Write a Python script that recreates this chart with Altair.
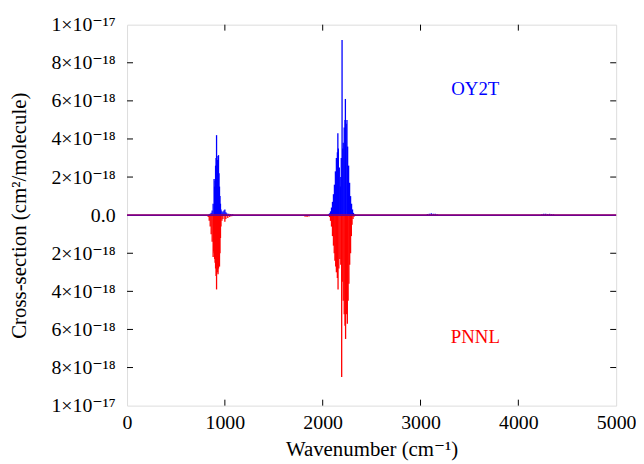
import altair as alt
import pandas as pd

# Cross-sections in units of 1e-18 cm^2/molecule
# OY2T (blue, plotted upward)
oy2t_wn = [840, 850, 860, 870, 880, 890, 895, 900, 905, 910, 915, 920, 925, 930,
           935, 940, 945, 950, 955, 960, 970, 980, 990, 1000, 1010, 1020, 1040,
           1060, 1080,
           2060, 2070, 2080, 2090, 2100, 2110, 2120, 2130, 2140, 2150, 2155, 2160,
           2170, 2180, 2185, 2190, 2198, 2205, 2210, 2220, 2228, 2232, 2240, 2248,
           2255, 2265, 2275, 2285, 2295, 2305, 2315, 2330,
           3070, 3090, 3110, 3130, 3150, 3170,
           4240, 4260, 4280, 4300, 4320, 4340, 4360]
oy2t_val = [0.05, 0.08, 0.12, 0.25, 0.6, 1.9, 1.5, 1.8, 2.6, 3.0, 4.2, 2.5, 2.9, 3.1,
            3.15, 2.2, 1.5, 1.0, 0.6, 0.3, 0.2, 0.15, 0.25, 0.3, 0.15, 0.1, 0.08,
            0.06, 0.05,
            0.05, 0.1, 0.2, 0.4, 0.7, 1.1, 1.6, 2.3, 3.0, 3.3, 4.3, 3.5,
            2.5, 1.5, 2.0, 3.0, 9.2, 3.5, 3.8, 4.6, 5.0, 6.1, 4.8, 5.0,
            3.6, 2.6, 1.7, 1.0, 0.6, 0.3, 0.12, 0.05,
            0.06, 0.08, 0.1, 0.08, 0.07, 0.05,
            0.05, 0.07, 0.08, 0.06, 0.07, 0.05, 0.04]

# PNNL (red, plotted downward)
pnnl_wn = [830, 840, 850, 860, 870, 880, 885, 890, 895, 900, 905, 910, 915, 920,
           925, 930, 935, 940, 945, 950, 955, 960, 970, 980, 1000, 1010, 1030,
           1050, 1070,
           1800, 1820, 1840, 1860, 1880,
           2070, 2080, 2090, 2100, 2110, 2118, 2125, 2133, 2140, 2150, 2157, 2165,
           2175, 2185, 2194, 2200, 2210, 2220, 2228, 2234, 2242, 2252, 2260, 2268,
           2276, 2285, 2293, 2300, 2310, 2320,
           3080, 3110, 3140,
           4260, 4300, 4340]
pnnl_val = [0.1, 0.3, 0.6, 1.0, 1.4, 2.2, 1.9, 2.0, 2.3, 2.5, 2.8, 3.2, 3.9, 2.9,
            3.0, 3.1, 2.8, 2.6, 2.7, 2.0, 1.2, 0.6, 0.3, 0.2, 0.35, 0.2, 0.15,
            0.1, 0.06,
            0.05, 0.08, 0.1, 0.07, 0.05,
            0.1, 0.3, 0.6, 1.1, 1.6, 2.0, 2.4, 2.7, 3.0, 3.3, 3.9, 2.8,
            2.3, 2.6, 8.5, 3.5, 4.5, 5.2, 5.8, 6.5, 5.2, 5.7, 4.5, 3.6,
            2.6, 2.0, 1.1, 0.5, 0.2, 0.08,
            0.04, 0.05, 0.04,
            0.03, 0.04, 0.03]

x_label_values = [0, 1000, 2000, 3000, 4000, 5000]
y_label_values = [-10, -8, -6, -4, -2, 0, 2, 4, 6, 8, 10]
x_inner_ticks = [1000, 2000, 3000, 4000]
y_inner_ticks = [-8, -6, -4, -2, 2, 4, 6, 8]

W, H = 493, 384
TICK = 6
FONT = "'Liberation Serif', 'DejaVu Serif', serif"

oy2t = pd.DataFrame({"wn": oy2t_wn, "v": oy2t_val})
pnnl = pd.DataFrame({"wn": pnnl_wn, "v": [-v for v in pnnl_val]})
xt = pd.DataFrame({"wn": x_inner_ticks})
yt = pd.DataFrame({"v": y_inner_ticks})
ends = pd.DataFrame({"wn": [0, 5000], "v": [0, 0]})

xscale = alt.Scale(domain=[0, 5000], nice=False)
yscale = alt.Scale(domain=[-10, 10], nice=False)

y_label_expr = ("datum.value == 0 ? '0.0' : (abs(datum.value) == 10 ? "
                "'1\u00d710\u207b\u00b9\u2077' : abs(datum.value) + "
                "'\u00d710\u207b\u00b9\u2078')")

xaxis = alt.Axis(values=x_label_values, ticks=False, domain=False, grid=False,
                 labelFlush=False, labelOverlap=False, labelPadding=7,
                 labelFontSize=20, labelFont=FONT, labelColor="black",
                 title="Wavenumber (cm\u207b\u00b9)", titleFontSize=21,
                 titleFont=FONT, titleFontWeight="normal", titlePadding=6,
                 titleColor="black", format="d")
yaxis = alt.Axis(values=y_label_values, ticks=False, domain=False, grid=False,
                 labelFlush=False, labelOverlap=False, labelPadding=12,
                 labelFontSize=20, labelFont=FONT, labelColor="black",
                 labelExpr=y_label_expr,
                 title="Cross-section (cm\u00b2/molecule)", titleFontSize=21,
                 titleFont=FONT, titleFontWeight="normal", titlePadding=22,
                 titleColor="black")

X = alt.X("wn:Q", scale=xscale, axis=xaxis)
Y = alt.Y("v:Q", scale=yscale, axis=yaxis)

base_red = alt.Chart(pnnl).mark_rule(color="#ff0000", strokeWidth=1.3).encode(
    x=X, y=Y, y2=alt.datum(0))
base_blue = alt.Chart(oy2t).mark_rule(color="#0000ff", strokeWidth=1.3).encode(
    x=X, y=Y, y2=alt.datum(0))
zero_red = alt.Chart(ends).mark_line(color="#ff0000", strokeWidth=1.6).encode(
    x=X, y=Y)
zero_blue = alt.Chart(ends).mark_line(color="#0000ff", strokeWidth=1.2,
                                      opacity=0.75).encode(x=X, y=Y)

left_ticks = alt.Chart(yt).mark_rule(color="black", strokeWidth=1).encode(
    y=Y, x=alt.value(0), x2=alt.value(TICK))
right_ticks = alt.Chart(yt).mark_rule(color="black", strokeWidth=1).encode(
    y=Y, x=alt.value(W - TICK), x2=alt.value(W))
bottom_ticks = alt.Chart(xt).mark_rule(color="black", strokeWidth=1).encode(
    x=X, y=alt.value(H), y2=alt.value(H - TICK))
top_ticks = alt.Chart(xt).mark_rule(color="black", strokeWidth=1).encode(
    x=X, y=alt.value(0), y2=alt.value(TICK))

label_oy2t = alt.Chart().mark_text(color="#0000ff", fontSize=19, font=FONT).encode(
    x=alt.datum(3560, scale=xscale, axis=xaxis),
    y=alt.datum(6.6, scale=yscale, axis=yaxis),
    text=alt.value("OY2T"))
label_pnnl = alt.Chart().mark_text(color="#ff0000", fontSize=19, font=FONT).encode(
    x=alt.datum(3560, scale=xscale, axis=xaxis),
    y=alt.datum(-6.4, scale=yscale, axis=yaxis),
    text=alt.value("PNNL"))

chart = alt.layer(
    base_red, base_blue, zero_red, zero_blue,
    left_ticks, right_ticks, bottom_ticks, top_ticks,
    label_oy2t, label_pnnl,
).properties(
    width=W, height=H,
    padding={"left": 0, "top": 5, "right": 0, "bottom": 0},
).configure_view(
    stroke="black", strokeWidth=1.2
).configure(font=FONT, background="white")

chart.save("out.html", embed_options={"renderer": "svg", "actions": False})
